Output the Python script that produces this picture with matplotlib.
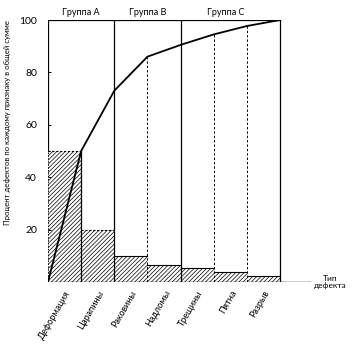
import matplotlib
matplotlib.use("Agg")
import matplotlib.pyplot as plt

# доля дефектов по типам, % (диаграмма Парето)
defects = ["Деформация", "Царапины", "Раковины", "Надломы", "Трещины", "Пятна", "Разрыв"]
percent = [50, 20, 10, 6.5, 5.5, 4, 2.3]
# кумулятивная кривая в точках на границах столбцов
cumulative = [0, 50, 73, 86, 90.5, 94.5, 97.7, 100]
groups = ["Группа А", "Группа В", "Группа С"]
group_edges = [0, 2, 4, 7]

plt.rcParams["font.family"] = ["Lato", "DejaVu Sans"]
plt.rcParams["hatch.linewidth"] = 0.5
plt.rcParams["hatch.color"] = "black"

fig = plt.figure(figsize=(3.52, 3.46), dpi=100)
ax = fig.add_axes([48 / 352, 64 / 346, 263.5 / 352, 262 / 346])

n = len(defects)
xs = [i + 0.5 for i in range(n)]
ax.bar(xs, percent, width=1.0, facecolor="white", edgecolor="black",
       hatch="////////", linewidth=0)

# контуры столбцов: верх первых двух пунктиром
for i, v in enumerate(percent):
    ls = (0, (2, 1.5)) if i < 2 else "-"
    ax.plot([i, i + 1], [v, v], color="black", lw=0.8, ls=ls)

# вертикальные линии между столбцами
ax.plot([0, 0], [percent[0], 100], color="black", lw=0.9)
ax.plot([0, 0], [0, percent[0]], color="black", lw=0.6, ls=(0, (2, 1.5)))
ax.plot([1, 1], [0, percent[0]], color="black", lw=0.9)
for e in group_edges[1:]:
    ax.plot([e, e], [0, 100], color="black", lw=0.9)
for e in [3, 5, 6]:
    ax.plot([e, e], [0, cumulative[e]], color="black", lw=0.7, ls=(0, (2.5, 2)))

ax.plot([0, n], [100, 100], color="black", lw=0.9)
ax.plot([0, 7.9], [0, 0], color="black", lw=1.0)

# кумулятивная кривая
ax.plot(range(n + 1), cumulative, color="black", lw=1.3)

for name, a, b in zip(groups, group_edges[:-1], group_edges[1:]):
    xc = (a + b) / 2 if b - a < 3 else (a + b) / 2 - 0.15
    ax.text(xc, 103, name, ha="center", va="center", fontsize=6.5, clip_on=False)

ax.text(8.52, 0, "Тип\nдефекта", ha="center", va="center", fontsize=6,
        linespacing=1.1, clip_on=False)

ax.set_xlim(0, 7.95)
ax.set_ylim(0, 100)
for s in ax.spines.values():
    s.set_visible(False)

ax.set_yticks([20, 40, 60, 80, 100])
ax.set_yticklabels(["20", "40", "60", "80", "100"], fontsize=7.5)
ax.tick_params(axis="y", direction="in", length=2, width=0.7, pad=8)
ax.set_xticks(xs)
ax.set_xticklabels(defects, rotation=60, ha="right", va="top",
                   rotation_mode="anchor", fontsize=6.5)
ax.tick_params(axis="x", length=0, pad=5)

fig.text(8 / 352, 1 - 123 / 346,
         "Процент дефектов по каждому признаку в общей сумме",
         rotation=90, ha="center", va="center", fontsize=5.6)

fig.savefig("out.png", dpi=100)
